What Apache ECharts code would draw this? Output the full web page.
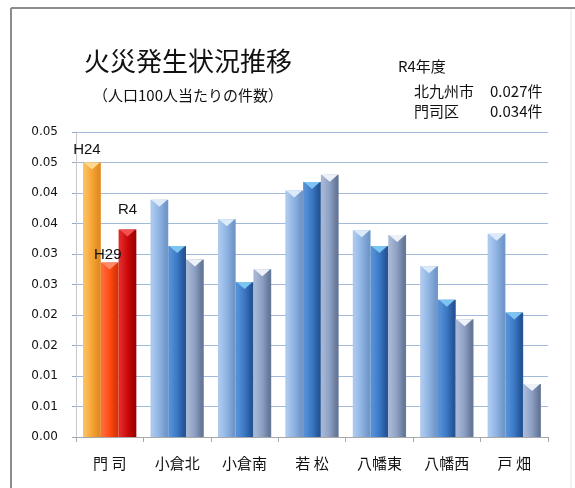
<!DOCTYPE html>
<html><head><meta charset="utf-8">
<script src="https://cdn.jsdelivr.net/npm/echarts@6/dist/echarts.min.js"></script>
<style>html,body{margin:0;padding:0;background:#fff;}#c{width:575px;height:488px;}</style>
</head><body><div id="c"></div>
<script>
var categories = ['門 司', '小倉北', '小倉南', '若 松', '八幡東', '八幡西', '戸 畑'];
var seriesNames = ['H24', 'H29', 'R4'];
var valuesH24 = [0.0450, 0.0389, 0.0357, 0.0404, 0.0339, 0.0280, 0.0333];
var valuesH29 = [0.0286, 0.0313, 0.0254, 0.0418, 0.0313, 0.0225, 0.0204];
var valuesR4  = [0.0340, 0.0291, 0.0275, 0.0430, 0.0331, 0.0193, 0.0087];
var tickLabels = ['0.00','0.01','0.01','0.02','0.02','0.03','0.03','0.04','0.04','0.05','0.05'];
var titleText = '火災発生状況推移';
var subtitleText = '（人口100人当たりの件数）';
var noteLines = ['R4年度', '北九州市', '0.027件', '門司区', '0.034件'];

function grad(l, m, r) {
  return new echarts.graphic.LinearGradient(0, 0, 1, 0, [
    {offset: 0, color: l}, {offset: 0.12, color: l}, {offset: 0.5, color: m}, {offset: 0.88, color: r}, {offset: 1, color: r}
  ]);
}
var blueColors = [
  grad('#ABC8EE', '#8DB3E3', '#7196C8'),
  grad('#5590D6', '#3B78C4', '#245596'),
  grad('#A6B6D4', '#8C9FC3', '#667898')
];
var mojiColors = [
  grad('#FBBE5E', '#F6A434', '#E28C24'),
  grad('#FF6A38', '#FF4A14', '#DA3404'),
  grad('#E02828', '#CC0A0A', '#A00000')
];
var blueCaps = ['#DCEBFA', '#7CC4F2', '#EEF2F8'];
var mojiCaps = ['#FFD890', '#FF8A66', '#F05050'];
var labelOpts = [
  {distance: 5, offset: [-5, 0]},
  {distance: 0, offset: [-2, 0]},
  {distance: 12, offset: [0, 0]}
];
var allValues = [valuesH24, valuesH29, valuesR4];

var series = seriesNames.map(function (name, si) {
  return {
    name: name,
    type: 'bar',
    barGap: '0%',
    barCategoryGap: '21%',
    itemStyle: {color: blueColors[si]},
    markPoint: {
      symbol: 'path://M0,0L20,0L10,6Z',
      symbolSize: [16, 7],
      symbolOffset: [0, 3.5],
      silent: true,
      label: {show: false},
      data: allValues[si].map(function (v, ci) {
        return {coord: [ci, v], itemStyle: {color: ci === 0 ? mojiCaps[si] : blueCaps[si]}};
      })
    },
    data: allValues[si].map(function (v, ci) {
      if (ci === 0) {
        return {
          value: v,
          itemStyle: {color: mojiColors[si]},
          label: {
            show: true, position: 'top', formatter: name,
            distance: labelOpts[si].distance, offset: labelOpts[si].offset,
            fontFamily: '"Liberation Sans", Arial, sans-serif', fontSize: 15, color: '#111'
          }
        };
      }
      return v;
    })
  };
});

var chart = echarts.init(document.getElementById('c'), null, {renderer: 'canvas'});
chart.setOption({
  animation: false,
  backgroundColor: '#fff',
  grid: {left: 76, right: 27, top: 132, bottom: 51},
  xAxis: {
    type: 'category',
    data: categories,
    axisLine: {lineStyle: {color: '#A8A8A8', width: 1}},
    axisTick: {show: true, length: 5, lineStyle: {color: '#A8A8A8'}},
    axisLabel: {margin: 19, fontSize: 15, color: '#111', fontFamily: '"Noto Sans CJK JP", sans-serif'}
  },
  yAxis: {
    type: 'value',
    min: 0, max: 0.05, interval: 0.005,
    axisLine: {show: true, lineStyle: {color: '#C8C8C8'}},
    axisTick: {show: true, length: 4, lineStyle: {color: '#8FA8CC'}},
    splitLine: {lineStyle: {color: '#A3B9D8', width: 1.2}},
    axisLabel: {
      margin: 18, fontSize: 12, color: '#111',
      fontFamily: '"DejaVu Sans", Verdana, sans-serif',
      formatter: function (v) { return tickLabels[Math.round(v / 0.005)]; }
    }
  },
  series: series,
  graphic: [
    {type: 'line', shape: {x1: 11, y1: 8, x2: 575, y2: 8}, style: {stroke: '#8C8C8C', lineWidth: 2}},
    {type: 'line', shape: {x1: 11, y1: 8, x2: 11, y2: 488}, style: {stroke: '#8C8C8C', lineWidth: 2}},
    {type: 'line', shape: {x1: 571, y1: 9, x2: 571, y2: 488}, style: {stroke: '#E4E4E4', lineWidth: 1}},
    {type: 'text', left: 84, top: 48, style: {text: titleText, font: '26px "Noto Sans CJK JP", sans-serif', fill: '#111'}},
    {type: 'text', left: 93, top: 88, style: {text: subtitleText, font: '15px "Noto Sans CJK JP", sans-serif', fill: '#111'}},
    {type: 'text', left: 398, top: 59, style: {text: noteLines[0], font: '15px "Noto Sans CJK JP", sans-serif', fill: '#111'}},
    {type: 'text', left: 414, top: 84, style: {text: noteLines[1], font: '15px "Noto Sans CJK JP", sans-serif', fill: '#111'}},
    {type: 'text', left: 490, top: 84, style: {text: noteLines[2], font: '15px "Noto Sans CJK JP", sans-serif', fill: '#111'}},
    {type: 'text', left: 414, top: 104, style: {text: noteLines[3], font: '15px "Noto Sans CJK JP", sans-serif', fill: '#111'}},
    {type: 'text', left: 490, top: 104, style: {text: noteLines[4], font: '15px "Noto Sans CJK JP", sans-serif', fill: '#111'}}
  ]
});
</script>
</body></html>
